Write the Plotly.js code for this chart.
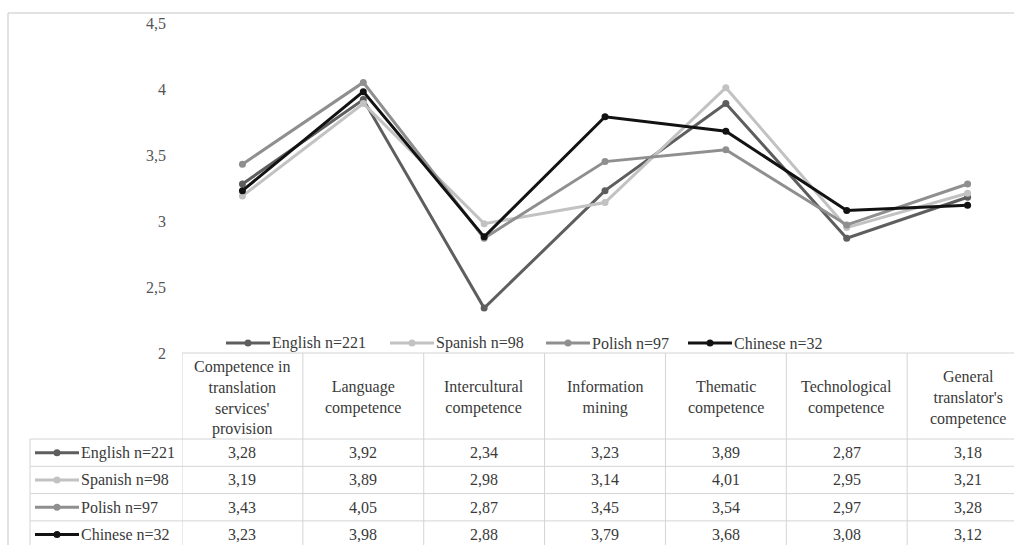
<!DOCTYPE html>
<html>
<head>
<meta charset="utf-8">
<script src="https://cdn.plot.ly/plotly-3.0.1.min.js"></script>
<style>
html,body{margin:0;padding:0;background:#fff;}
#chart{width:1014px;height:545px;}
</style>
</head>
<body>
<div id="chart"></div>
<script>
// ---- data ----
const categories = [
  "Competence in<br>translation<br>services'<br>provision",
  "Language<br>competence",
  "Intercultural<br>competence",
  "Information<br>mining",
  "Thematic<br>competence",
  "Technological<br>competence",
  "General<br>translator's<br>competence"
];
const seriesNames = ["English n=221", "Spanish n=98", "Polish n=97", "Chinese n=32"];
const english = [3.28, 3.92, 2.34, 3.23, 3.89, 2.87, 3.18];
const spanish = [3.19, 3.89, 2.98, 3.14, 4.01, 2.95, 3.21];
const polish  = [3.43, 4.05, 2.87, 3.45, 3.54, 2.97, 3.28];
const chinese = [3.23, 3.98, 2.88, 3.79, 3.68, 3.08, 3.12];
const yTickVals = [2, 2.5, 3, 3.5, 4, 4.5];
const yTickText = ["2", "2,5", "3", "3,5", "4", "4,5"];

const seriesValues = [english, spanish, polish, chinese];
const seriesColors = ["#5e5e5e", "#c2c2c2", "#8f8f8f", "#121212"];

// ---- geometry (pixels) ----
const W = 1014, H = 545;
const L = 182, T = 23, B = 353;   // plot left, top, bottom
const colW = 120.86;
const PW = W - L;
const PH = B - T;
const px2x = p => (p - L) / PW;      // paper x
const px2y = p => (B - p) / PH;      // paper y
const xMax = -0.5 + PW / colW;

const tableTop = B, headBottom = 439, rowH = 27.3;
const labelLeft = 30;
const gridColor = "#d4d4d4";
const textColor = "#3a3a3a";
const fontFam = "Liberation Serif, Times New Roman, serif";
const legendLeft = [226, 390, 546, 688];
const legendY = 343;

const xIdx = categories.map((c, i) => i);

const traces = seriesNames.map((name, s) => ({
  type: "scatter",
  mode: "lines+markers",
  name: name,
  x: xIdx,
  y: seriesValues[s],
  line: {color: seriesColors[s], width: 3},
  marker: {color: seriesColors[s], size: 7, symbol: "circle"},
  hoverinfo: "skip",
  showlegend: false
}));

const shapes = [];
const annotations = [];

// outer frame
shapes.push({type: "line", xref: "paper", yref: "paper", x0: px2x(8), x1: px2x(W + 5), y0: px2y(13), y1: px2y(13), line: {color: "#d9d9d9", width: 1.5}});
shapes.push({type: "line", xref: "paper", yref: "paper", x0: px2x(8), x1: px2x(8), y0: px2y(13), y1: px2y(H + 5), line: {color: "#d9d9d9", width: 1.5}});

// table horizontal lines
shapes.push({type: "line", xref: "paper", yref: "paper", x0: px2x(L), x1: px2x(W + 5), y0: px2y(tableTop), y1: px2y(tableTop), line: {color: gridColor, width: 1}});
for (let r = 0; r < seriesNames.length; r++) {
  const yy = headBottom + r * rowH;
  shapes.push({type: "line", xref: "paper", yref: "paper", x0: px2x(labelLeft), x1: px2x(W + 5), y0: px2y(yy), y1: px2y(yy), line: {color: gridColor, width: 1}});
}
// left border of label column
shapes.push({type: "line", xref: "paper", yref: "paper", x0: px2x(labelLeft), x1: px2x(labelLeft), y0: px2y(headBottom), y1: px2y(H + 5), line: {color: gridColor, width: 1}});
// vertical column lines
for (let c = 0; c <= categories.length; c++) {
  shapes.push({type: "line", xref: "x", yref: "paper", x0: c - 0.5, x1: c - 0.5, y0: px2y(tableTop), y1: px2y(H + 5), line: {color: gridColor, width: 1}});
}

// header text
categories.forEach((c, i) => {
  annotations.push({xref: "x", yref: "paper", x: i, y: px2y(398), text: c, showarrow: false,
    xanchor: "center", yanchor: "middle", align: "center",
    font: {family: fontFam, size: 16, color: textColor}});
});

function legendKey(x0, cy, color) {
  shapes.push({type: "line", xref: "paper", yref: "paper", x0: px2x(x0), x1: px2x(x0 + 44), y0: px2y(cy), y1: px2y(cy), line: {color: color, width: 3}});
  shapes.push({type: "circle", xref: "paper", yref: "paper", x0: px2x(x0 + 18.5), x1: px2x(x0 + 25.5), y0: px2y(cy - 3.5), y1: px2y(cy + 3.5), fillcolor: color, line: {color: color, width: 0}});
}

// legend above the table
seriesNames.forEach((name, s) => {
  legendKey(legendLeft[s], legendY, seriesColors[s]);
  annotations.push({xref: "paper", yref: "paper", x: px2x(legendLeft[s] + 44), y: px2y(legendY), text: name, showarrow: false,
    xanchor: "left", yanchor: "middle", font: {family: fontFam, size: 16, color: textColor}});
});

// rows: keys, labels, values
seriesNames.forEach((name, s) => {
  const cy = headBottom + s * rowH + rowH / 2;
  legendKey(35, cy, seriesColors[s]);
  annotations.push({xref: "paper", yref: "paper", x: px2x(79), y: px2y(cy), text: name, showarrow: false,
    xanchor: "left", yanchor: "middle", font: {family: fontFam, size: 16, color: textColor}});
  seriesValues[s].forEach((v, i) => {
    annotations.push({xref: "x", yref: "paper", x: i, y: px2y(cy), text: v.toFixed(2).replace(".", ","), showarrow: false,
      xanchor: "center", yanchor: "middle", font: {family: fontFam, size: 16, color: textColor}});
  });
});

const layout = {
  width: W, height: H,
  margin: {l: L, r: 0, t: T, b: H - B, pad: 0},
  paper_bgcolor: "#ffffff",
  plot_bgcolor: "#ffffff",
  showlegend: false,
  font: {family: fontFam},
  xaxis: {range: [-0.5, xMax], showgrid: false, zeroline: false, showline: false, showticklabels: false, ticks: "", fixedrange: true},
  yaxis: {range: [2, 4.5], tickvals: yTickVals, ticktext: yTickText, showgrid: false, zeroline: false, showline: false,
    ticks: "", ticklabelstandoff: 15, tickfont: {family: fontFam, size: 16, color: "#555555"}, fixedrange: true},
  shapes: shapes,
  annotations: annotations,
  hovermode: false
};

Plotly.newPlot("chart", traces, layout, {displayModeBar: false, staticPlot: true});
</script>
</body>
</html>
